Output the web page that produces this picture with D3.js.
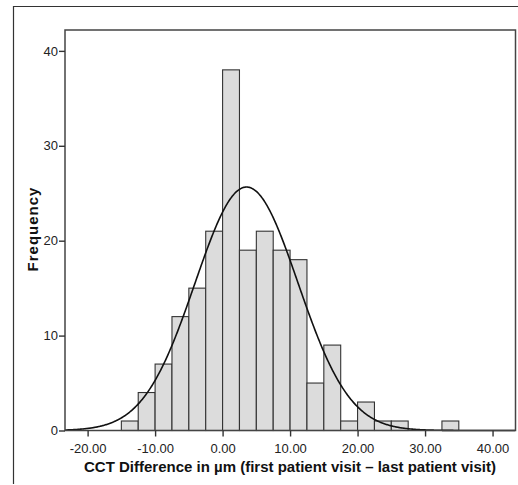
<!DOCTYPE html>
<html><head><meta charset="utf-8">
<script src="https://cdn.jsdelivr.net/npm/d3@7"></script>
<style>body{margin:0;background:#fff}svg{display:block}text{font-family:"Liberation Sans",Arial,sans-serif}</style>
</head><body><svg id="c" width="518" height="485"></svg>
<script>
// Histogram bins (lower edge, width 2.5) and frequencies
const binStarts = [-15,-12.5,-10,-7.5,-5,-2.5,0,2.5,5,7.5,10,12.5,15,17.5,20,22.5,25,27.5,30,32.5];
const binCounts = [1,4,7,12,15,21,38,19,21,19,18,5,9,1,3,1,1,0,0,1];
const binWidth = 2.5;
const xTicks = [-20,-10,0,10,20,30,40];
const xTickLabels = ["-20.00","-10.00","0.00","10.00","20.00","30.00","40.00"];
const yTicks = [0,10,20,30,40];
// Normal curve parameters (SPSS overlay)
const curveMean = 3.55, curveSD = 7.62, curveN = 196;

const svg = d3.select("#c");
const L=65, R=515.5, T=30, B=430.5;
const x = d3.scaleLinear().domain([-23.35, 43.4]).range([L, R]);
const y = d3.scaleLinear().domain([0, 42.2]).range([B, T]);

// outer frame
svg.append("path").attr("d","M13.5,484 V6.5 H518").attr("fill","none").attr("stroke","#333").attr("stroke-width",1.2);

// bars
svg.append("g").selectAll("rect").data(binStarts.map((s,i)=>({s,c:binCounts[i]})).filter(d=>d.c>0))
 .join("rect")
 .attr("x",d=>x(d.s)).attr("width",d=>x(d.s+binWidth)-x(d.s))
 .attr("y",d=>y(d.c)).attr("height",d=>y(0)-y(d.c))
 .attr("fill","#dcdcdc").attr("stroke","#333").attr("stroke-width",1.1);

// normal curve
const xs = d3.range(-23.35, 43.4, 0.1);
const dens = v => curveN*binWidth/(curveSD*Math.sqrt(2*Math.PI))*Math.exp(-0.5*((v-curveMean)/curveSD)**2);
svg.append("path").datum(xs)
 .attr("d", d3.line().x(d=>x(d)).y(d=>y(dens(d))).curve(d3.curveBasis))
 .attr("fill","none").attr("stroke","#111").attr("stroke-width",1.6);

// plot frame
svg.append("rect").attr("x",L).attr("y",T).attr("width",R-L).attr("height",B-T)
 .attr("fill","none").attr("stroke","#444").attr("stroke-width",1.5);

// axes
const xa = svg.append("g").attr("transform",`translate(0,${B})`)
 .call(d3.axisBottom(x).tickValues(xTicks).tickFormat((d,i)=>xTickLabels[i]).tickSize(6).tickSizeOuter(0));
const ya = svg.append("g").attr("transform",`translate(${L},0)`)
 .call(d3.axisLeft(y).tickValues(yTicks).tickFormat(d3.format("d")).tickSize(6).tickSizeOuter(0));
[xa,ya].forEach(g=>{
  g.select(".domain").remove();
  g.selectAll("line").attr("stroke","#333").attr("stroke-width",1.4);
  g.selectAll("text").attr("fill","#222").style("font-size","13px");
});
xa.selectAll("text").attr("dy","0.71em").attr("y",13);
ya.selectAll("text").attr("x",-7);

svg.append("text").attr("x",290).attr("y",472).attr("text-anchor","middle")
 .style("font-size","15px").style("font-weight","bold").attr("fill","#111")
 .text("CCT Difference in µm (first patient visit – last patient visit)");
svg.append("text").attr("transform","translate(38,229) rotate(-90)").attr("text-anchor","middle")
 .style("font-size","15px").style("font-weight","bold").style("letter-spacing","1px").attr("fill","#111")
 .text("Frequency");
</script></body></html>
